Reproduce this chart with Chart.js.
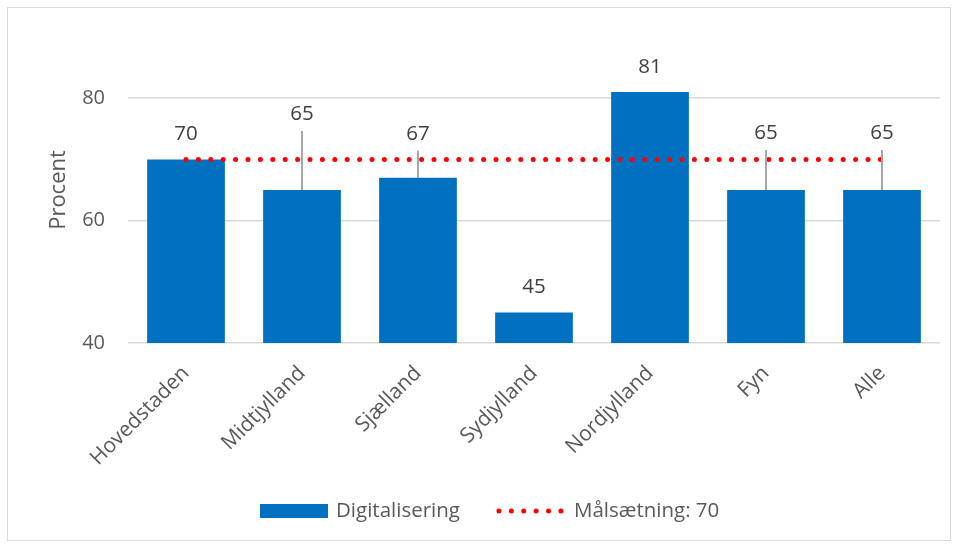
<!DOCTYPE html>
<html>
<head>
<meta charset="utf-8">
<script src="https://cdn.jsdelivr.net/npm/chart.js@4.4.1/dist/chart.umd.min.js"></script>
<style>
  html, body { margin: 0; padding: 0; background: #fff; }
  #wrap { width: 960px; height: 547px; position: relative; }
</style>
</head>
<body>
<div id="wrap"><canvas id="chart"></canvas></div>
<script>
const regions = ['Hovedstaden', 'Midtjylland', 'Sjælland', 'Sydjylland', 'Nordjylland', 'Fyn', 'Alle'];
const digitalisering = [70, 65, 67, 45, 81, 65, 65];
const maalsaetning = [70, 70, 70, 70, 70, 70, 70];
const yTicks = [40, 60, 80];

// label placement (px above bar top) - some labels were dragged up in the original
const labelLift = [25, 76, 44, 25, 25, 57, 57];

const FONT = '"Open Sans", sans-serif';
const GREY = '#595959';

const extras = {
  id: 'extras',
  beforeDraw(chart) {
    const ctx = chart.ctx;
    ctx.save();
    ctx.strokeStyle = '#d9d9d9';
    ctx.lineWidth = 1;
    ctx.strokeRect(7.5, 7.5, 943, 533);
    ctx.restore();
  },
  afterDatasetsDraw(chart) {
    const ctx = chart.ctx;
    const meta = chart.getDatasetMeta(0);
    ctx.save();
    ctx.font = '20.5px ' + FONT;
    ctx.textAlign = 'center';
    ctx.textBaseline = 'middle';
    meta.data.forEach((bar, i) => {
      const lift = labelLift[i];
      const ly = bar.y - lift;
      if (lift > 30) {
        ctx.strokeStyle = '#a6a6a6';
        ctx.lineWidth = 2;
        ctx.beginPath();
        ctx.moveTo(bar.x, bar.y);
        ctx.lineTo(bar.x, ly + 17);
        ctx.stroke();
      }
      ctx.fillStyle = '#404040';
      ctx.fillText(String(digitalisering[i]), bar.x, ly);
    });

    // legend
    const ds = chart.data.datasets;
    const y = 511;
    let x = 260;
    ctx.textAlign = 'left';
    ctx.fillStyle = ds[0].backgroundColor;
    ctx.fillRect(x, y - 7, 68, 14);
    x += 76;
    ctx.fillStyle = GREY;
    ctx.fillText(ds[0].label, x, y);
    x += ctx.measureText(ds[0].label).width + 37;
    ctx.strokeStyle = ds[1].borderColor;
    ctx.lineWidth = ds[1].borderWidth;
    ctx.lineCap = 'round';
    ctx.setLineDash(ds[1].borderDash);
    ctx.beginPath();
    ctx.moveTo(x + 2, y);
    ctx.lineTo(x + 66, y);
    ctx.stroke();
    ctx.setLineDash([]);
    x += 77;
    ctx.fillText(ds[1].label, x, y);
    ctx.restore();
  }
};

new Chart(document.getElementById('chart'), {
  data: {
    labels: regions,
    datasets: [
      {
        type: 'bar',
        label: 'Digitalisering',
        data: digitalisering,
        backgroundColor: '#0070c0',
        categoryPercentage: 1,
        barPercentage: 0.67,
        order: 2
      },
      {
        type: 'line',
        label: 'Målsætning: 70',
        data: maalsaetning,
        borderColor: '#ff0000',
        borderWidth: 5,
        borderDash: [0, 12.4],
        borderCapStyle: 'round',
        pointRadius: 0,
        fill: false,
        order: 1
      }
    ]
  },
  options: {
    responsive: true,
    maintainAspectRatio: false,
    animation: false,
    layout: { padding: { top: 37, right: 20, bottom: 64, left: 0 } },
    plugins: {
      legend: { display: false },
      tooltip: { enabled: false }
    },
    scales: {
      x: {
        grid: { display: false },
        border: { display: false },
        ticks: {
          color: GREY,
          font: { family: FONT, size: 21 },
          maxRotation: 45,
          minRotation: 45,
          padding: 10
        },
        afterFit(s) { s.height = 140; }
      },
      y: {
        min: 40,
        max: 90,
        afterBuildTicks(s) { s.ticks = yTicks.map(v => ({ value: v })); },
        grid: { color: '#d9d9d9', lineWidth: 1.5, drawTicks: false },
        border: { display: false },
        ticks: {
          color: GREY,
          font: { family: FONT, size: 20 },
          padding: 23
        },
        title: {
          display: true,
          text: 'Procent',
          color: GREY,
          font: { family: FONT, size: 22 },
          padding: { top: 46 }
        },
        afterFit(s) { s.width = 128; }
      }
    }
  },
  plugins: [extras]
});
</script>
</body>
</html>
